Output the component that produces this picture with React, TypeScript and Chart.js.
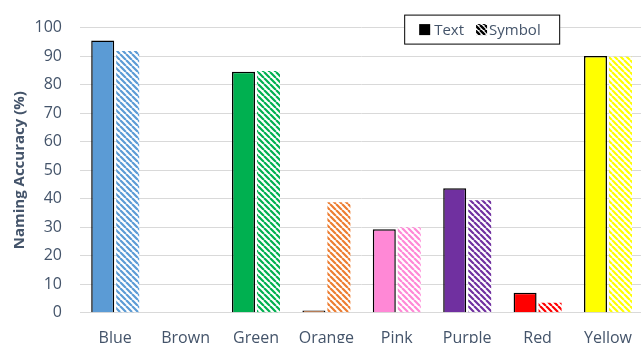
import React, { useEffect, useRef } from 'react';
import { Chart, registerables } from 'chart.js';

Chart.register(...registerables);

// Colour categories on the x axis
const colorNames = ['Blue', 'Brown', 'Green', 'Orange', 'Pink', 'Purple', 'Red', 'Yellow'];
// Naming accuracy (%) per condition
const textAccuracy = [95.5, 0, 84.5, 0.8, 29.3, 43.7, 7.0, 90.0];
const symbolAccuracy = [91.8, 0, 84.8, 38.8, 30.0, 39.5, 3.5, 89.8];
// Fill colour for each category
const barColors = ['#5B9BD5', '#843C0C', '#00B050', '#ED7D31', '#FF88D6', '#7030A0', '#FF0000', '#FFFF00'];
// Y axis tick values
const yTickValues = [0, 10, 20, 30, 40, 50, 60, 70, 80, 90, 100];

const seriesLabels = ['Text', 'Symbol'];
const inkColor = '#44546A';
const fontFamily = '"Open Sans", "Noto Sans", sans-serif';

// Diagonal "\" stripes on white
function hatch(color: string, size = 6, width = 2.2): CanvasPattern {
  const c = document.createElement('canvas');
  c.width = size;
  c.height = size;
  const g = c.getContext('2d')!;
  g.fillStyle = '#ffffff';
  g.fillRect(0, 0, size, size);
  g.strokeStyle = color;
  g.lineWidth = width;
  g.beginPath();
  for (let k = -1; k <= 1; k++) {
    g.moveTo(k * size, 0);
    g.lineTo(k * size + size, size);
  }
  g.stroke();
  return g.createPattern(c, 'repeat')!;
}

// Boxed legend drawn inside the plot area, top right
const boxedLegend = {
  id: 'boxedLegend',
  afterDraw(chart: any) {
    const ctx: CanvasRenderingContext2D = chart.ctx;
    const area = chart.chartArea;
    const boxW = 156;
    const boxH = 30;
    const left = area.right - 239;
    const top = area.top - 13;
    ctx.save();
    ctx.fillStyle = '#ffffff';
    ctx.fillRect(left, top, boxW, boxH);
    ctx.strokeStyle = '#000000';
    ctx.lineWidth = 1;
    ctx.strokeRect(left + 0.5, top + 0.5, boxW - 1, boxH - 1);

    const midY = top + boxH / 2;
    const sq = 11;
    ctx.font = `15px ${fontFamily}`;
    ctx.textBaseline = 'middle';
    ctx.textAlign = 'left';

    let x = left + 15;
    ctx.fillStyle = '#000000';
    ctx.fillRect(x, midY - sq / 2, sq, sq);
    x += sq + 4;
    ctx.fillStyle = inkColor;
    const l0 = chart.data.datasets[0].label;
    ctx.fillText(l0, x, midY + 1);
    x += ctx.measureText(l0).width + 12;

    ctx.fillStyle = hatch('#000000', 5, 2.4);
    ctx.fillRect(x, midY - sq / 2, sq, sq);
    x += sq + 2;
    ctx.fillStyle = inkColor;
    ctx.fillText(chart.data.datasets[1].label, x, midY + 1);
    ctx.restore();
  },
};

export default function App() {
  const canvasRef = useRef<HTMLCanvasElement | null>(null);

  useEffect(() => {
    const canvas = canvasRef.current;
    if (!canvas) return;
    const chart = new Chart(canvas, {
      type: 'bar',
      data: {
        labels: colorNames,
        datasets: [
          {
            label: seriesLabels[0],
            data: textAccuracy,
            backgroundColor: barColors,
            borderColor: '#000000',
            borderWidth: 1.5,
            categoryPercentage: 0.71,
            barPercentage: 0.92,
          },
          {
            label: seriesLabels[1],
            data: symbolAccuracy,
            backgroundColor: barColors.map((c) => hatch(c)),
            borderWidth: 0,
            categoryPercentage: 0.71,
            barPercentage: 0.92,
          },
        ],
      },
      options: {
        responsive: false,
        animation: false,
        devicePixelRatio: 1,
        layout: { padding: { top: 25, left: 0, right: 0, bottom: 0 } },
        plugins: {
          legend: { display: false },
          tooltip: { enabled: false },
        },
        scales: {
          x: {
            grid: { display: false, drawTicks: false },
            border: { display: true, color: '#D9D9D9', width: 1 },
            ticks: {
              color: inkColor,
              font: { family: fontFamily, size: 16 },
              padding: 16,
              maxRotation: 0,
            },
          },
          y: {
            min: 0,
            max: 100,
            afterBuildTicks: (scale: any) => {
              scale.ticks = yTickValues.map((v) => ({ value: v }));
            },
            afterFit: (scale: any) => {
              scale.width = 80;
            },
            grid: { color: '#D9D9D9', lineWidth: 1, drawTicks: false },
            border: { display: false },
            ticks: {
              color: inkColor,
              font: { family: fontFamily, size: 16 },
              padding: 18,
            },
            title: {
              display: true,
              text: 'Naming Accuracy (%)',
              color: inkColor,
              font: { family: fontFamily, size: 15, weight: 'bold' },
              padding: { top: 11, bottom: 0 },
            },
          },
        },
      },
      plugins: [boxedLegend],
    });
    return () => chart.destroy();
  }, []);

  return (
    <div
      style={{
        position: 'absolute',
        left: 0,
        top: 0,
        width: 641,
        height: 343,
        overflow: 'hidden',
        background: '#ffffff',
      }}
    >
      <canvas ref={canvasRef} width={648} height={364} style={{ display: 'block' }} />
    </div>
  );
}
